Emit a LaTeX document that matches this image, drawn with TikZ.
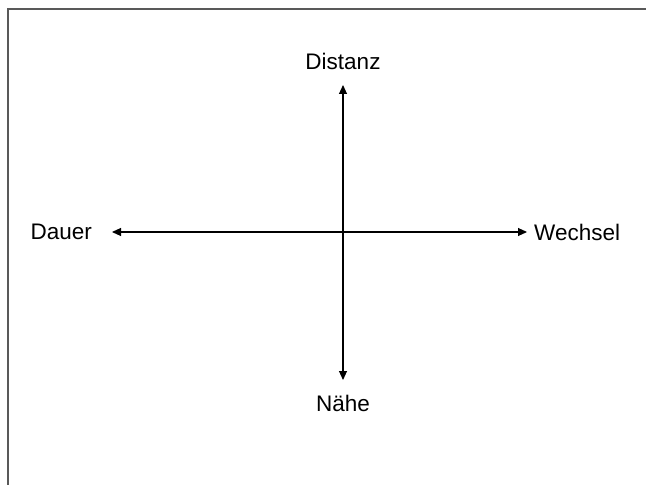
\documentclass[tikz,border=0pt]{standalone}
\usepackage{fontspec}
\setmainfont{Liberation Sans}
\usetikzlibrary{arrows.meta}
\begin{document}
\begin{tikzpicture}[x=1bp,y=-1bp,
  lbl/.style={inner sep=0pt,font=\fontsize{22.5bp}{26bp}\selectfont},
  axis/.style={line width=1.1bp,-{Triangle[length=9bp,width=8bp]}},
  frame/.style={draw=black!65,line width=2bp}]
\useasboundingbox (0,0) rectangle (646,485);
\fill[white] (0,0) rectangle (646,485);
\draw[frame] (8,487) -- (8,9) -- (648,9);
\coordinate (c) at (343,232);
\node[lbl] (dist) at (343,61) {Distanz};
\node[lbl] (nahe) at (343,403) {Nähe};
\node[lbl,anchor=east] (dauer) at (92,232) {Dauer};
\node[lbl,anchor=west] (wech) at (534,232) {Wechsel};
\coordinate (tn) at (343,85);
\coordinate (ts) at (343,380);
\coordinate (tw) at (112,232);
\coordinate (te) at (527,232);
\draw[axis] (c) -- (tn);
\draw[axis] (c) -- (ts);
\draw[axis] (c) -- (tw);
\draw[axis] (c) -- (te);
\end{tikzpicture}
\end{document}
